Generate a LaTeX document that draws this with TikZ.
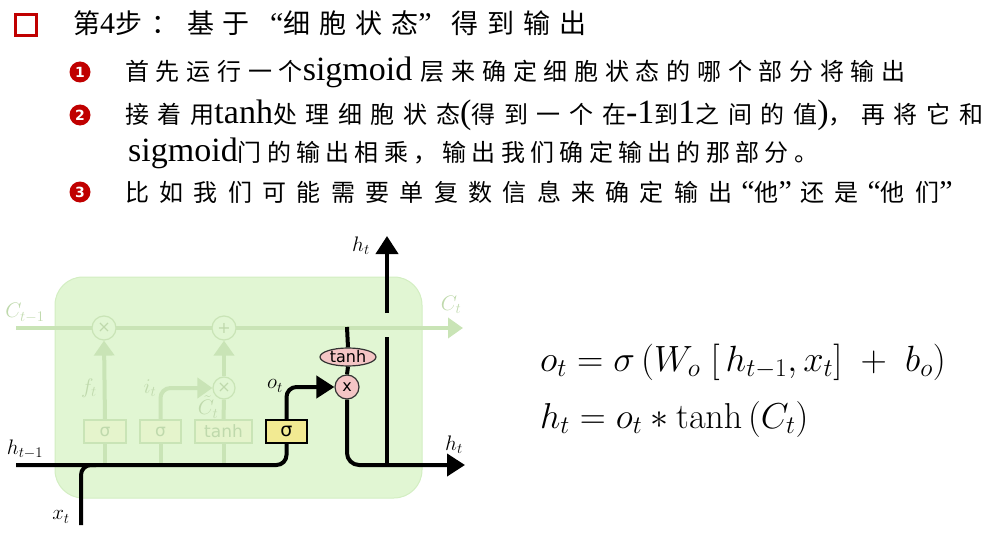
\RequirePackage{fix-cm}
\documentclass[tikz,border=0pt]{standalone}
\usepackage[no-math]{fontspec}
\setmainfont{Liberation Serif}
\newfontfamily\cjkT[LetterSpace=33]{Noto Sans CJK SC}
\newfontfamily\cjkA[LetterSpace=28]{Noto Sans CJK SC}
\newfontfamily\cjkB[LetterSpace=36]{Noto Sans CJK SC}
\newfontfamily\cjkC[LetterSpace=22]{Noto Sans CJK SC}
\newfontfamily\cjkD[LetterSpace=43]{Noto Sans CJK SC}
\newfontfamily\dejavu{DejaVu Sans}
\newfontfamily\dejavub{DejaVu Sans Bold}
\usetikzlibrary{arrows.meta,shapes.geometric,calc}
\newcommand\lat[1]{{\rmfamily\fontsize{34}{34}\selectfont #1}}
\newcommand\oq[1]{\makebox[#1][r]{\rmfamily\fontsize{30}{30}\selectfont “}}
\newcommand\cq[1]{\makebox[#1][l]{\rmfamily\fontsize{30}{30}\selectfont ”}}
\definecolor{boxg}{HTML}{E1F6D3}
\definecolor{boxgb}{HTML}{D3EEC2}
\definecolor{faint}{HTML}{C9E4B6}
\definecolor{fainttxt}{HTML}{BFD9AC}
\definecolor{faintbox}{HTML}{E5F4CC}
\definecolor{sigy}{HTML}{F2EA92}
\definecolor{pinkc}{HTML}{F4C5C5}
\definecolor{redc}{HTML}{C00000}
\tikzset{
  txt/.style={anchor=base west, inner sep=0pt},
  bul/.style={circle, fill=redc, text=white, minimum size=21pt, inner sep=0pt, font=\dejavub\fontsize{14}{14}\selectfont},
  lbl/.style={inner sep=0pt, font=\fontsize{21}{21}\selectfont},
  flbl/.style={lbl, text=fainttxt},
  fline/.style={faint, line width=4pt},
  bline/.style={black, line width=4pt},
  fhead/.style={-{Triangle[length=15pt,width=20pt]}},
  bhead/.style={-{Triangle[length=18pt,width=22pt]}},
  fgate/.style={draw=faint, fill=faintbox, line width=1.2pt, minimum height=23pt, inner sep=0pt, text=fainttxt, font=\dejavu\fontsize{17}{17}\selectfont},
  fop/.style={circle, draw=faint, fill=boxg, line width=1.2pt, minimum size=24pt, inner sep=0pt, text=fainttxt, font=\dejavu\fontsize{16}{16}\selectfont},
}
\begin{document}
\begin{tikzpicture}[x=1pt,y=-1pt]
\useasboundingbox (0,0) rectangle (986,535);
% header
\node[draw=redc, line width=2.5pt, minimum size=21pt, inner sep=0pt] (sq) at (26,25) {};
\node[txt] (title) at (73,34) {\fontsize{27}{27}\selectfont\cjkT 第{\rmfamily\fontsize{30}{30}\selectfont 4}步：基于\oq{33.6pt}细胞状态\cq{33.6pt}得到输出};
\node[bul] (b1) at (80,72) {1};
\node[bul] (b2) at (80,115) {2};
\node[bul] (b3) at (80,192) {3};
\node[txt] (l1) at (125,81) {\fontsize{24}{24}\selectfont\cjkA 首先运行一个\lat{sigmoid }层来确定细胞状态的哪个部分将输出};
\node[txt] (l2) at (125,124) {\fontsize{24}{24}\selectfont\cjkB 接着用\lat{tanh}处理细胞状态\lat{(}得到一个在\lat{-1}到\lat{1}之间的值\lat{)}，再将它和};
\node[txt] (l3) at (128,161) {\fontsize{24}{24}\selectfont\cjkC\lat{sigmoid}门的输出相乘，输出我们确定输出的那部分。};
\node[txt] (l4) at (125,201) {\fontsize{24}{24}\selectfont\cjkD 比如我们可能需要单复数信息来确定输出\oq{22pt}他\cq{22pt}还是\oq{22pt}他们\cq{22pt}};
% cell box
\node[draw=boxgb, fill=boxg, line width=1pt, rounded corners=28pt, minimum width=367pt, minimum height=221pt] (cell) at (238.5,387.5) {};
% cell state line
\coordinate (cin) at (16,328);
\coordinate (cout) at (463,328);
\draw[fline, fhead] (cin) -- (cout);
\node[fop] (fx) at (104,328) {×};
\node[fop] (plus) at (224,328) {+};
% faint gates
\node[fgate, minimum width=42pt] (s1) at (105,431.5) {σ};
\node[fgate, minimum width=41pt] (s2) at (160.5,431.5) {σ};
\node[fgate, minimum width=57pt] (tg) at (223.5,431.5) {tanh};
\node[fop, minimum size=22pt] (ix) at (224,388) {×};
\coordinate (hin) at (16,465);
\draw[fline] (s1.south |- hin) -- (s1.south);
\draw[fline] (s2.south |- hin) -- (s2.south);
\draw[fline] (tg.south |- hin) -- (tg.south);
\draw[fline, fhead] (s1.north) -- (fx.south);
\draw[fline, fhead, rounded corners=10pt] (s2.north) |- (ix.west);
\draw[fline] (tg.north) -- (ix.south);
\draw[fline, fhead] (ix.north) -- (plus.south);
\node[flbl] (ft) at (89,388) {$f_t$};
\node[flbl] (it) at (150,388) {$i_t$};
\node[flbl] (ctl) at (208,407) {$\tilde{C}_t$};
\node[flbl] (cprev) at (25,313) {$C_{t-1}$};
\node[flbl] (cnext) at (451,305) {$C_t$};
% active path
\node[draw=black, fill=sigy, line width=1.2pt, minimum width=41pt, minimum height=23pt, inner sep=0pt, font=\dejavu\fontsize{19}{19}\selectfont] (sg) at (286.5,431.5) {σ};
\node[circle, draw=black!80, fill=pinkc, line width=1.2pt, minimum size=24pt, inner sep=0pt, font=\dejavu\fontsize{16}{16}\selectfont] (mul) at (347,387) {x};
\node[ellipse, draw=black!80, fill=pinkc, line width=1.2pt, minimum width=56pt, minimum height=18pt, inner sep=0pt, font=\dejavu\fontsize{16}{16}\selectfont] (th) at (348,357) {tanh};
\coordinate (xin) at (81,525);
\coordinate (ctop) at (347,327);
\coordinate (hout) at (465,465);
\coordinate (hup) at (387,236);
\coordinate (vbot) at (387,465);
\coordinate (gapl) at (387,337);
\coordinate (gaph) at (387,313);
\draw[bline, rounded corners=10pt] (hin) -| (sg.south);
\draw[bline, rounded corners=10pt] (xin) |- ($(hin)+(80,0)$);
\draw[bline, bhead, rounded corners=10pt] (sg.north) |- (mul.west);
\draw[bline] (ctop) -- (th.north);
\draw[bline] (th.south) -- (mul.north);
\draw[bline, bhead, rounded corners=12pt] (mul.south) |- (hout);
\draw[bline] (vbot) -- (gapl);
\draw[bline, bhead] (gaph) -- (hup);
\node[lbl] (ot) at (275,386) {$o_t$};
\node[lbl] (htop) at (361,246) {$h_t$};
\node[lbl] (hright) at (454,445) {$h_t$};
\node[lbl] (hprev) at (25,449) {$h_{t-1}$};
\node[lbl] (xt) at (61,517) {$x_t$};
% equations
\node[txt] (eq1) at (540,371) {\fontsize{36.5}{40}\selectfont $o_t=\sigma\,(W_o\;[\,h_{t-1},x_t]\;+\;b_o)$};
\node[txt] (eq2) at (540,428) {\fontsize{36}{40}\selectfont $h_t=o_t*\tanh\,(C_t)$};
\end{tikzpicture}
\end{document}
